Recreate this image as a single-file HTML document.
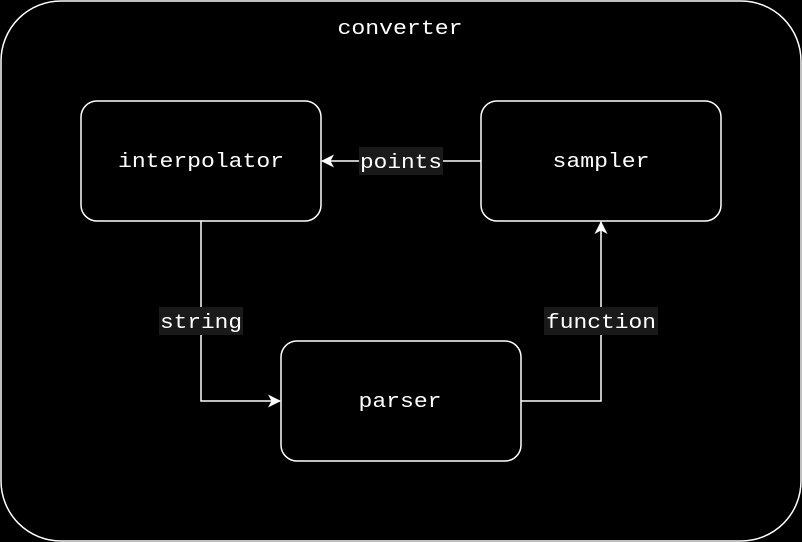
<!DOCTYPE html>
<html><head><style>html,body{margin:0;padding:0;background:#000;}svg{display:block}</style></head>
<body>
<svg width="802" height="542" viewBox="0 0 802 542" xmlns="http://www.w3.org/2000/svg" font-family="'Liberation Mono', monospace" font-size="20" fill="#fff">
<defs><marker id="a" markerWidth="14" markerHeight="14" refX="12" refY="6.5" orient="auto" markerUnits="userSpaceOnUse"><path d="M0,0 L13,6.5 L0,13 L3.5,6.5 Z" fill="#fff"/></marker></defs>
<rect x="1" y="1" width="800" height="540" rx="60" fill="#000" stroke="#fff" stroke-width="1.5"/>
<text x="400" y="34" text-anchor="middle" textLength="125" lengthAdjust="spacingAndGlyphs">converter</text>
<rect x="81" y="101" width="240" height="120" rx="16" fill="#000" stroke="#fff" stroke-width="1.5"/>
<rect x="481" y="101" width="240" height="120" rx="16" fill="#000" stroke="#fff" stroke-width="1.5"/>
<rect x="281" y="341" width="240" height="120" rx="16" fill="#000" stroke="#fff" stroke-width="1.5"/>
<text x="201" y="167" text-anchor="middle" textLength="166" lengthAdjust="spacingAndGlyphs">interpolator</text>
<text x="601" y="167" text-anchor="middle" textLength="97" lengthAdjust="spacingAndGlyphs">sampler</text>
<text x="400" y="407" text-anchor="middle" textLength="83" lengthAdjust="spacingAndGlyphs">parser</text>
<g stroke="#fff" stroke-width="1.5" fill="none">
<path d="M481,161 L322,161" marker-end="url(#a)"/>
<path d="M201,221 L201,401 L280,401" marker-end="url(#a)"/>
<path d="M521,401 L601,401 L601,222" marker-end="url(#a)"/>
</g>
<rect x="359" y="147" width="84" height="28" fill="#1a1a1a"/>
<text x="401" y="168" text-anchor="middle" textLength="82" lengthAdjust="spacingAndGlyphs">points</text>
<rect x="159" y="307" width="84" height="28" fill="#1a1a1a"/>
<text x="201" y="328" text-anchor="middle" textLength="82" lengthAdjust="spacingAndGlyphs">string</text>
<rect x="544" y="307" width="114" height="28" fill="#1a1a1a"/>
<text x="601" y="328" text-anchor="middle" textLength="110" lengthAdjust="spacingAndGlyphs">function</text>
</svg>
</body></html>
